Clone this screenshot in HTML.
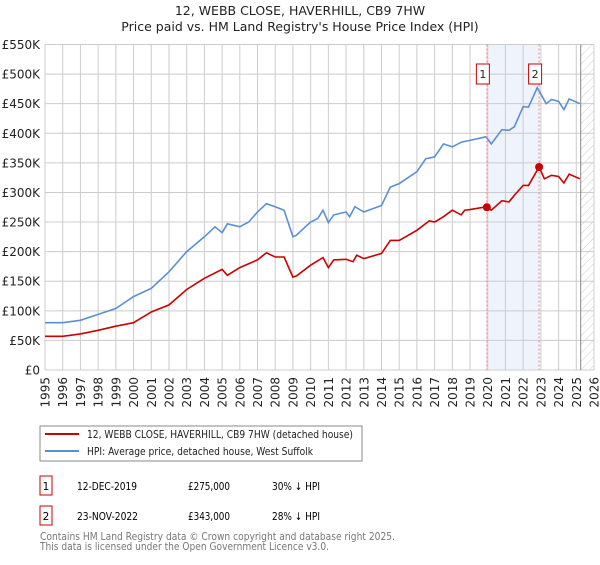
<!DOCTYPE html>
<html><head><meta charset="utf-8"><style>
body{margin:0;background:#fff;font-family:"Liberation Sans","DejaVu Sans",sans-serif;}
svg text{font-family:"DejaVu Sans","Liberation Sans",sans-serif;}
</style></head><body>
<svg width="600" height="560" xmlns="http://www.w3.org/2000/svg" id="chart">
<defs><pattern id="hatch" width="6" height="6" patternUnits="userSpaceOnUse" patternTransform="rotate(45)"><line x1="0" y1="0" x2="0" y2="6" stroke="#ccc" stroke-width="1"/></pattern></defs>
<text x="300" y="15" text-anchor="middle" font-size="12.5" fill="#222">12, WEBB CLOSE, HAVERHILL, CB9 7HW</text>
<text x="300" y="31" text-anchor="middle" font-size="12.5" fill="#222">Price paid vs. HM Land Registry's House Price Index (HPI)</text>
<g id="grid"></g><g id="marks"></g><g id="axes"></g>
<rect x="40" y="426" width="322" height="35" fill="#fff" stroke="#888"/>
<line x1="45" y1="434" x2="79" y2="434" stroke="#cc0000" stroke-width="2"/>
<text x="87" y="438" font-size="10.5" fill="#222" textLength="266" lengthAdjust="spacingAndGlyphs">12, WEBB CLOSE, HAVERHILL, CB9 7HW (detached house)</text>
<line x1="45" y1="451" x2="79" y2="451" stroke="#5b8fd4" stroke-width="2"/>
<text x="87" y="455" font-size="10.5" fill="#222" textLength="226" lengthAdjust="spacingAndGlyphs">HPI: Average price, detached house, West Suffolk</text>
<g>
<rect x="40" y="476" width="12" height="19" fill="#fff" stroke="#cc0000"/><text x="46" y="490" text-anchor="middle" font-size="10.5">1</text>
<text x="77" y="490" font-size="10.5" textLength="60" lengthAdjust="spacingAndGlyphs">12-DEC-2019</text><text x="188" y="490" font-size="10.5" textLength="42" lengthAdjust="spacingAndGlyphs">£275,000</text><text x="272" y="490" font-size="10.5" textLength="48" lengthAdjust="spacingAndGlyphs">30% ↓ HPI</text></g>
<g>
<rect x="40" y="506" width="12" height="19" fill="#fff" stroke="#cc0000"/><text x="46" y="520" text-anchor="middle" font-size="10.5">2</text>
<text x="77" y="520" font-size="10.5" textLength="61" lengthAdjust="spacingAndGlyphs">23-NOV-2022</text><text x="188" y="520" font-size="10.5" textLength="42" lengthAdjust="spacingAndGlyphs">£343,000</text><text x="272" y="520" font-size="10.5" textLength="48" lengthAdjust="spacingAndGlyphs">28% ↓ HPI</text></g>
<text x="40" y="540" font-size="10.5" fill="#777" textLength="355" lengthAdjust="spacingAndGlyphs">Contains HM Land Registry data © Crown copyright and database right 2025.</text>
<text x="40" y="550" font-size="10.5" fill="#777" textLength="289" lengthAdjust="spacingAndGlyphs">This data is licensed under the Open Government Licence v3.0.</text>
</svg>
<script>
const hpiYears=[1995,1996,1997,1998,1999,2000,2001,2002,2003,2004,2004.6,2005,2005.3,2006,2006.5,2007,2007.5,2008,2008.5,2009,2009.2,2010,2010.4,2010.7,2011,2011.3,2012,2012.2,2012.5,2013,2014,2014.5,2015,2016,2016.5,2017,2017.5,2018,2018.5,2019,2019.9,2020.2,2020.8,2021.2,2021.5,2022,2022.3,2022.8,2023.3,2023.6,2024,2024.3,2024.6,2025.2];
const hpiValues=[80,80,84,94,104,124,138,166,200,225,242,232,247,242,250,267,281,276,270,225,228,250,256,270,249,262,267,259,276,267,278,309,315,335,357,360,382,377,385,388,394,382,406,405,411,445,444,477,450,457,454,440,458,450];
const redYears=[1995,1996,1997,1998,1999,2000,2001,2002,2003,2004,2005,2005.3,2006,2007,2007.5,2008,2008.5,2009,2009.2,2010,2010.7,2011,2011.3,2012,2012.4,2012.6,2013,2014,2014.5,2015,2016,2016.7,2017,2017.5,2018,2018.5,2018.7,2019,2019.95,2020.2,2020.8,2021.2,2021.5,2022,2022.3,2022.9,2023.2,2023.6,2024,2024.3,2024.6,2025.2];
const redValues=[57,57,61,67,74,80,98,110,136,155,170,160,173,186,198,191,191,157,159,177,190,173,186,187,183,194,188,197,219,219,236,252,250,259,270,262,270,271,276,270,286,284,295,312,312,343,323,329,327,316,331,323];
const saleYears=[2019.95,2022.9];
const saleValues=[275,343];
const yTicks=[0,50,100,150,200,250,300,350,400,450,500,550];
const yTickLabels=["£0","£50K","£100K","£150K","£200K","£250K","£300K","£350K","£400K","£450K","£500K","£550K"];
const xTicks=[1995,1996,1997,1998,1999,2000,2001,2002,2003,2004,2005,2006,2007,2008,2009,2010,2011,2012,2013,2014,2015,2016,2017,2018,2019,2020,2021,2022,2023,2024,2025,2026];
const NS="http://www.w3.org/2000/svg";
const X0=45,X1=594,Y0=370,Y1=44.5;
const xs=y=>X0+(y-1995)/(2026-1995)*(X1-X0);
const ys=v=>Y0-v/550*(Y0-Y1);
function mk(t,a,p){const e=document.createElementNS(NS,t);for(const k in a)e.setAttribute(k,a[k]);p.appendChild(e);return e;}
const grid=document.getElementById('grid'),marks=document.getElementById('marks'),axes=document.getElementById('axes');
const band=mk('rect',{x:xs(saleYears[0]),y:Y1,width:xs(saleYears[1])-xs(saleYears[0]),height:Y0-Y1,fill:'#eef3fc'},grid);


const hatchStart=2025.25;
const hr=mk('rect',{x:xs(hatchStart),y:Y1,width:X1-xs(hatchStart),height:Y0-Y1,fill:'url(#hatch)'},grid);


yTicks.forEach((v,i)=>{
 const l=mk('line',{x1:X0,x2:X1,y1:ys(v),y2:ys(v),stroke:'#ccc'},grid);
 
 
 const t=mk('text',{x:X0-5,y:ys(v)+4.5,'text-anchor':'end','font-size':'12',fill:'#222'},axes);
 t.textContent=yTickLabels[i];
 
 
});
xTicks.forEach(y=>{
 const l=mk('line',{x1:xs(y),x2:xs(y),y1:Y1,y2:Y0,stroke:'#ccc'},grid);
 
 
 const t=mk('text',{x:0,y:0,transform:`translate(${xs(y)+4.5},377) rotate(-90)`,'text-anchor':'end','font-size':'12',fill:'#222'},axes);
 t.textContent=String(y);
 
 
});
const vl=mk('line',{x1:xs(hatchStart),x2:xs(hatchStart),y1:Y1,y2:Y0,stroke:'#888'},grid);


function pts(xa,va){return xa.map((x,i)=>xs(x).toFixed(1)+','+ys(va[i]).toFixed(1)).join(' ');}
const hl=mk('polyline',{points:pts(hpiYears,hpiValues),fill:'none',stroke:'#5b8fd4','stroke-width':1.6},marks);


const rl=mk('polyline',{points:pts(redYears,redValues),fill:'none',stroke:'#cc0000','stroke-width':1.6},marks);


saleYears.forEach((y,i)=>{
 const d=mk('line',{x1:xs(y),x2:xs(y),y1:Y1,y2:Y0,stroke:'#f08080','stroke-dasharray':'2,2'},marks);
 
 
 const c=mk('circle',{cx:xs(y),cy:ys(saleValues[i]),r:4,fill:'#cc0000'},marks);
 
 
 const g=mk('g',{},marks);
 
 
 mk('rect',{x:xs(y)-10.5,y:64,width:13,height:20,fill:'#fff',stroke:'#cc0000'},g);
 const t=mk('text',{x:xs(y)-4,y:78,'text-anchor':'middle','font-size':'11',fill:'#222'},g);
 t.textContent=String(i+1);
});
</script>
</body></html>
